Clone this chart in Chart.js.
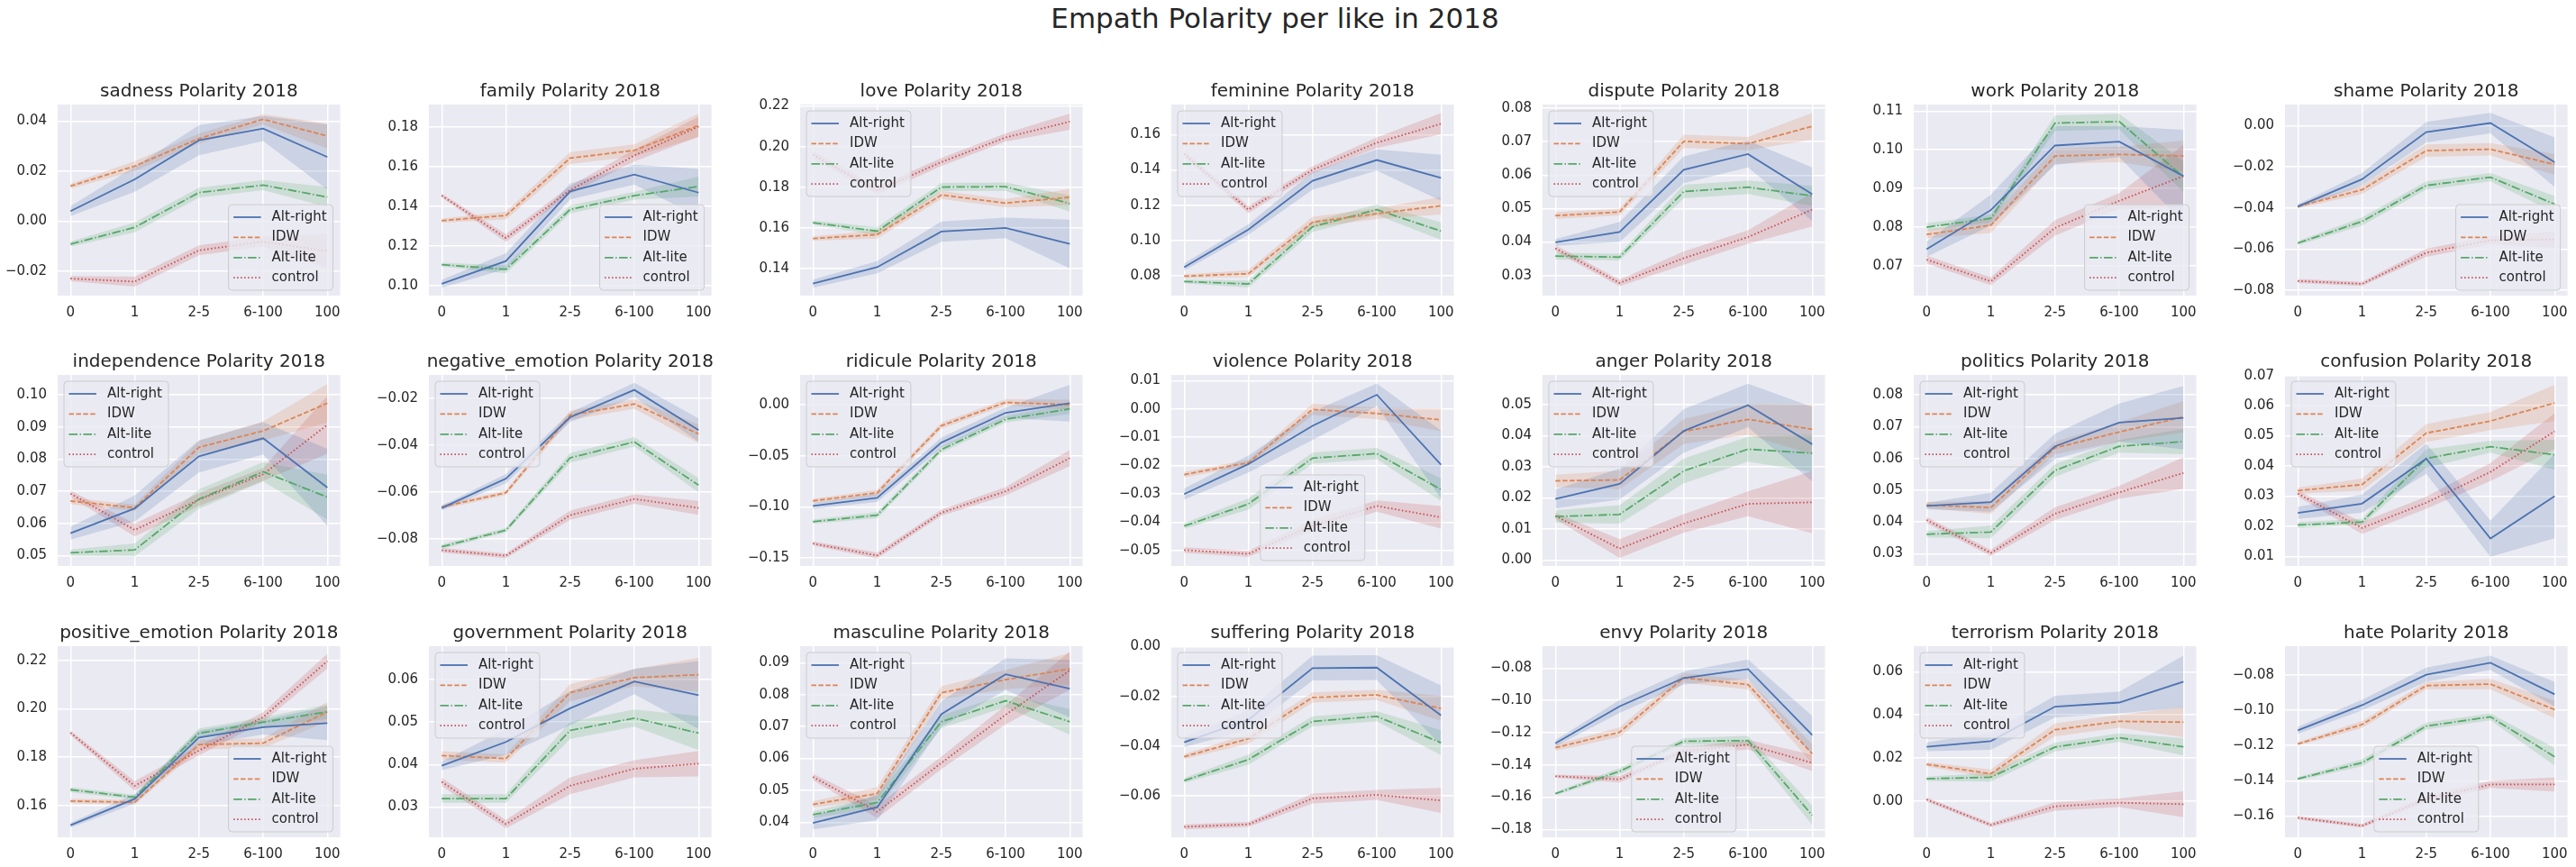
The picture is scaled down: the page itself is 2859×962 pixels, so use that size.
<!DOCTYPE html>
<html>
<head>
<meta charset="utf-8">
<script src="https://cdn.jsdelivr.net/npm/chart.js@4.4.1/dist/chart.umd.min.js"></script>
<style>
  html, body { margin: 0; padding: 0; background: #ffffff; }
  body { width: 2859px; height: 962px; position: relative; overflow: hidden; font-family: "DejaVu Sans", sans-serif; }
  #suptitle { position: absolute; left: 0; width: 2830px; top: 5px; text-align: center; font-size: 31px; line-height: 31px; color: #262626; white-space: nowrap; }
  .cv { position: absolute; }
</style>
</head>
<body>
<div id="suptitle">Empath Polarity per like in 2018</div>
<script>
// ---------------- DATA ----------------
const categories = ['0', '1', '2-5', '6-100', '100'];
const seriesNames = ['Alt-right', 'IDW', 'Alt-lite', 'control'];
const titles = [
  'sadness Polarity 2018', 'family Polarity 2018', 'love Polarity 2018', 'feminine Polarity 2018',
  'dispute Polarity 2018', 'work Polarity 2018', 'shame Polarity 2018',
  'independence Polarity 2018', 'negative_emotion Polarity 2018', 'ridicule Polarity 2018', 'violence Polarity 2018',
  'anger Polarity 2018', 'politics Polarity 2018', 'confusion Polarity 2018',
  'positive_emotion Polarity 2018', 'government Polarity 2018', 'masculine Polarity 2018', 'suffering Polarity 2018',
  'envy Polarity 2018', 'terrorism Polarity 2018', 'hate Polarity 2018'
];

const altRight = [
  [0.0040, 0.0167, 0.0323, 0.0370, 0.0256],
  [0.101, 0.1124, 0.1475, 0.156, 0.1469],
  [0.1326, 0.1407, 0.1582, 0.160, 0.1521],
  [0.0849, 0.1062, 0.1338, 0.1456, 0.1355],
  [0.0399, 0.043, 0.0616, 0.0663, 0.0543],
  [0.0743, 0.0844, 0.1011, 0.1021, 0.0932],
  [-0.0393, -0.0261, -0.0032, 0.0012, -0.0178],
  [0.057, 0.0647, 0.0809, 0.0865, 0.0712],
  [-0.0667, -0.0542, -0.028, -0.0163, -0.0335],
  [-0.0991, -0.0912, -0.0371, -0.0079, 0.0015],
  [-0.0301, -0.0195, -0.006, 0.005, -0.0197],
  [0.0197, 0.0245, 0.0416, 0.0498, 0.0373],
  [0.045, 0.0462, 0.0638, 0.0713, 0.0728],
  [0.0244, 0.0275, 0.0424, 0.0159, 0.030],
  [0.1518, 0.1627, 0.1881, 0.1924, 0.1941],
  [0.0397, 0.0453, 0.0532, 0.0595, 0.0563],
  [0.0398, 0.0447, 0.0739, 0.0864, 0.0819],
  [-0.0384, -0.0294, -0.0086, -0.0084, -0.0276],
  [-0.1266, -0.1037, -0.0861, -0.0806, -0.1215],
  [0.0252, 0.0278, 0.0438, 0.0457, 0.0554],
  [-0.1114, -0.0971, -0.0798, -0.073, -0.0909]
];
const altRightCI = [
  [0.002, 0.005, 0.006, 0.005, 0.013],
  [0.002, 0.004, 0.004, 0.005, 0.012],
  [0.002, 0.003, 0.005, 0.005, 0.012],
  [0.002, 0.003, 0.005, 0.006, 0.013],
  [0.001, 0.003, 0.004, 0.004, 0.008],
  [0.002, 0.004, 0.005, 0.004, 0.012],
  [0.001, 0.003, 0.005, 0.005, 0.012],
  [0.002, 0.004, 0.005, 0.005, 0.012],
  [0.001, 0.002, 0.002, 0.003, 0.005],
  [0.003, 0.004, 0.005, 0.005, 0.018],
  [0.002, 0.003, 0.005, 0.004, 0.012],
  [0.003, 0.005, 0.007, 0.007, 0.012],
  [0.001, 0.003, 0.004, 0.006, 0.010],
  [0.002, 0.003, 0.005, 0.006, 0.014],
  [0.001, 0.002, 0.003, 0.003, 0.007],
  [0.001, 0.003, 0.004, 0.003, 0.008],
  [0.002, 0.004, 0.004, 0.005, 0.009],
  [0.002, 0.004, 0.005, 0.005, 0.012],
  [0.002, 0.004, 0.004, 0.006, 0.012],
  [0.002, 0.004, 0.005, 0.005, 0.012],
  [0.002, 0.003, 0.004, 0.004, 0.007]
];

const idw = [
  [0.014, 0.022, 0.033, 0.0407, 0.034],
  [0.1328, 0.1354, 0.1643, 0.1682, 0.1808],
  [0.1548, 0.1567, 0.1762, 0.1722, 0.1751],
  [0.0798, 0.0812, 0.1104, 0.1152, 0.1197],
  [0.0479, 0.049, 0.0701, 0.0694, 0.0746],
  [0.0781, 0.0805, 0.0984, 0.0988, 0.0984],
  [-0.0393, -0.0312, -0.0122, -0.0115, -0.0189],
  [0.067, 0.0649, 0.0837, 0.0888, 0.0974],
  [-0.0663, -0.0602, -0.0271, -0.0223, -0.0351],
  [-0.0942, -0.0863, -0.0205, 0.0023, 0.0],
  [-0.0232, -0.019, -0.0002, -0.0016, -0.0039],
  [0.0255, 0.0258, 0.0414, 0.0453, 0.0421],
  [0.0453, 0.0445, 0.0633, 0.0683, 0.0731],
  [0.0318, 0.0338, 0.0509, 0.0549, 0.0609],
  [0.1618, 0.1613, 0.1852, 0.1858, 0.1988],
  [0.0421, 0.0414, 0.0569, 0.0604, 0.0611],
  [0.0456, 0.049, 0.0806, 0.0847, 0.0881],
  [-0.0442, -0.037, -0.0204, -0.0194, -0.0248],
  [-0.1293, -0.1197, -0.086, -0.0902, -0.1331],
  [0.0171, 0.0127, 0.0331, 0.037, 0.0366],
  [-0.1191, -0.1081, -0.086, -0.0851, -0.0996]
];
const idwCI = [
  [0.001, 0.002, 0.002, 0.002, 0.005],
  [0.001, 0.002, 0.003, 0.003, 0.006],
  [0.001, 0.002, 0.002, 0.002, 0.004],
  [0.001, 0.002, 0.003, 0.003, 0.005],
  [0.001, 0.001, 0.002, 0.002, 0.004],
  [0.001, 0.002, 0.002, 0.002, 0.004],
  [0.001, 0.002, 0.003, 0.003, 0.005],
  [0.001, 0.001, 0.002, 0.003, 0.006],
  [0.001, 0.001, 0.002, 0.002, 0.004],
  [0.002, 0.003, 0.003, 0.003, 0.005],
  [0.001, 0.001, 0.002, 0.002, 0.004],
  [0.002, 0.003, 0.004, 0.005, 0.008],
  [0.001, 0.002, 0.002, 0.003, 0.005],
  [0.001, 0.002, 0.003, 0.003, 0.006],
  [0.001, 0.001, 0.002, 0.002, 0.004],
  [0.001, 0.001, 0.002, 0.002, 0.004],
  [0.001, 0.002, 0.002, 0.003, 0.005],
  [0.001, 0.002, 0.002, 0.002, 0.005],
  [0.002, 0.003, 0.003, 0.003, 0.006],
  [0.001, 0.002, 0.003, 0.003, 0.007],
  [0.001, 0.002, 0.002, 0.003, 0.005]
];

const altLite = [
  [-0.0092, -0.0025, 0.0114, 0.0144, 0.0096],
  [0.1106, 0.1082, 0.1384, 0.1454, 0.150],
  [0.1626, 0.1584, 0.1801, 0.1803, 0.172],
  [0.0768, 0.0754, 0.1078, 0.1175, 0.1053],
  [0.0358, 0.0355, 0.0551, 0.0564, 0.0538],
  [0.080, 0.0823, 0.1069, 0.1073, 0.093],
  [-0.0571, -0.0466, -0.0291, -0.0251, -0.0382],
  [0.0509, 0.0518, 0.0676, 0.0761, 0.0682],
  [-0.0833, -0.0762, -0.0453, -0.0385, -0.057],
  [-0.1146, -0.1082, -0.0439, -0.0143, -0.0041],
  [-0.0414, -0.0336, -0.0174, -0.0158, -0.0285],
  [0.014, 0.0147, 0.0287, 0.0357, 0.0344],
  [0.0361, 0.0368, 0.0562, 0.0638, 0.0653],
  [0.0204, 0.0214, 0.0425, 0.0464, 0.0437],
  [0.1665, 0.1634, 0.1899, 0.1945, 0.1988],
  [0.032, 0.032, 0.048, 0.0509, 0.0474],
  [0.0424, 0.0462, 0.0715, 0.0781, 0.0715],
  [-0.0538, -0.0454, -0.030, -0.028, -0.0386],
  [-0.1578, -0.1439, -0.1253, -0.1249, -0.1712],
  [0.0104, 0.0111, 0.0251, 0.0294, 0.0252],
  [-0.1389, -0.1298, -0.109, -0.1037, -0.1264]
];
const altLiteCI = [
  [0.001, 0.002, 0.002, 0.002, 0.004],
  [0.001, 0.002, 0.002, 0.002, 0.005],
  [0.001, 0.002, 0.002, 0.002, 0.004],
  [0.001, 0.002, 0.003, 0.003, 0.005],
  [0.001, 0.001, 0.002, 0.002, 0.003],
  [0.001, 0.001, 0.002, 0.002, 0.004],
  [0.001, 0.002, 0.002, 0.002, 0.004],
  [0.001, 0.002, 0.003, 0.003, 0.007],
  [0.001, 0.001, 0.002, 0.002, 0.003],
  [0.002, 0.003, 0.003, 0.003, 0.005],
  [0.001, 0.002, 0.002, 0.002, 0.004],
  [0.002, 0.003, 0.004, 0.004, 0.006],
  [0.001, 0.002, 0.002, 0.002, 0.004],
  [0.001, 0.001, 0.003, 0.002, 0.005],
  [0.001, 0.001, 0.002, 0.002, 0.003],
  [0.001, 0.001, 0.002, 0.002, 0.004],
  [0.001, 0.002, 0.002, 0.002, 0.004],
  [0.001, 0.002, 0.002, 0.002, 0.005],
  [0.001, 0.002, 0.002, 0.003, 0.006],
  [0.001, 0.002, 0.002, 0.002, 0.004],
  [0.001, 0.002, 0.002, 0.002, 0.005]
];

const control = [
  [-0.023, -0.0242, -0.0117, -0.0082, -0.0121],
  [0.1454, 0.124, 0.1482, 0.1656, 0.1802],
  [0.196, 0.1784, 0.1924, 0.2045, 0.2123],
  [0.149, 0.1175, 0.140, 0.1554, 0.1661],
  [0.0381, 0.0278, 0.0352, 0.0415, 0.0497],
  [0.0716, 0.066, 0.0798, 0.0868, 0.0932],
  [-0.0755, -0.0769, -0.0618, -0.0557, -0.0554],
  [0.0693, 0.058, 0.0674, 0.0753, 0.0907],
  [-0.0848, -0.0871, -0.0698, -0.0629, -0.0667],
  [-0.136, -0.1477, -0.1058, -0.0848, -0.0523],
  [-0.0499, -0.0512, -0.0412, -0.0343, -0.0383],
  [0.0142, 0.0037, 0.0118, 0.0181, 0.0186],
  [0.0406, 0.0302, 0.0426, 0.0493, 0.0554],
  [0.0308, 0.0194, 0.0278, 0.038, 0.0515],
  [0.1901, 0.1681, 0.1827, 0.1966, 0.2198],
  [0.0359, 0.026, 0.035, 0.039, 0.0402],
  [0.0542, 0.0433, 0.0586, 0.0737, 0.0876],
  [-0.0724, -0.0714, -0.061, -0.0596, -0.0618],
  [-0.147, -0.1489, -0.1312, -0.1275, -0.1387],
  [0.0008, -0.011, -0.0024, -0.0007, -0.0014],
  [-0.161, -0.1656, -0.1503, -0.1421, -0.1421]
];
const controlCI = [
  [0.001, 0.002, 0.002, 0.002, 0.007],
  [0.001, 0.002, 0.002, 0.003, 0.005],
  [0.002, 0.002, 0.002, 0.002, 0.004],
  [0.002, 0.002, 0.002, 0.003, 0.006],
  [0.001, 0.001, 0.002, 0.002, 0.005],
  [0.001, 0.001, 0.002, 0.002, 0.008],
  [0.001, 0.001, 0.002, 0.002, 0.004],
  [0.001, 0.002, 0.002, 0.002, 0.009],
  [0.001, 0.001, 0.002, 0.002, 0.003],
  [0.002, 0.003, 0.003, 0.004, 0.008],
  [0.001, 0.001, 0.002, 0.002, 0.004],
  [0.001, 0.003, 0.003, 0.004, 0.010],
  [0.001, 0.001, 0.002, 0.002, 0.005],
  [0.001, 0.002, 0.002, 0.003, 0.006],
  [0.001, 0.002, 0.002, 0.002, 0.003],
  [0.001, 0.001, 0.002, 0.002, 0.003],
  [0.001, 0.002, 0.002, 0.003, 0.006],
  [0.001, 0.001, 0.002, 0.002, 0.005],
  [0.001, 0.002, 0.002, 0.003, 0.005],
  [0.001, 0.001, 0.002, 0.002, 0.006],
  [0.001, 0.001, 0.002, 0.002, 0.004]
];

// axis ranges and tick labels
const yMin = [-0.0298, 0.095, 0.1267, 0.0688, 0.024, 0.0623, -0.0826,
              0.0468, -0.0915, -0.158, -0.0555, -0.0019, 0.0261, 0.0068,
              0.1468, 0.0229, 0.0353, -0.0766, -0.1848, -0.0167, -0.1721];
const yMax = [0.0466, 0.1913, 0.2207, 0.177, 0.0811, 0.1117, 0.0102,
              0.1062, -0.0099, 0.0292, 0.012, 0.0596, 0.0863, 0.0702,
              0.226, 0.0678, 0.0952, 0.0002, -0.0664, 0.0718, -0.0636];
const tickFirst = [-0.02, 0.10, 0.14, 0.08, 0.03, 0.07, -0.08,
                   0.05, -0.08, -0.15, -0.05, 0.00, 0.03, 0.01,
                   0.16, 0.03, 0.04, -0.06, -0.18, 0.00, -0.16];
const tickLast = [0.04, 0.18, 0.22, 0.16, 0.08, 0.11, 0.00,
                  0.10, -0.02, 0.00, 0.01, 0.05, 0.08, 0.07,
                  0.22, 0.06, 0.09, 0.00, -0.08, 0.06, -0.08];
const tickStep = [0.02, 0.02, 0.02, 0.02, 0.01, 0.01, 0.02,
                  0.01, 0.02, 0.05, 0.01, 0.01, 0.01, 0.01,
                  0.02, 0.01, 0.01, 0.02, 0.02, 0.02, 0.02];
const legendLoc = ['lr', 'lr', 'ul', 'ul', 'ul', 'lr', 'lr',
                   'ul', 'ul', 'ul', 'lc', 'ul', 'ul', 'ul',
                   'lr', 'ul', 'ul', 'ul', 'lc', 'ul', 'lc'];

// ---------------- STYLE ----------------
const FONT = '"DejaVu Sans", sans-serif';
const TEXT = '#262626';
const palette = ['#4C72B0', '#DD8452', '#55A868', '#C44E52'];
const bandColors = ['rgba(76,114,176,0.2)', 'rgba(221,132,82,0.2)', 'rgba(85,168,104,0.2)', 'rgba(196,78,82,0.2)'];
const dashes = [[], [5.5, 2.4], [9.6, 2.4, 1.5, 2.4], [1.5, 2.5]];
const LW = 1.8;

const PLOT_W = 316, PLOT_H = 212;
const rowTops = [116, 416, 717];
const colLeft = c => 64 + 412 * c;
const AX_W = 64, TITLE_H = 48, XAX_H = 34, PAD_R = 8;

const bgPlugin = {
  id: 'plotBg',
  beforeDraw(chart) {
    const a = chart.chartArea, ctx = chart.ctx;
    ctx.save();
    ctx.fillStyle = '#EAEAF2';
    ctx.fillRect(a.left, a.top, a.right - a.left, a.bottom - a.top);
    ctx.restore();
  }
};

// axes title centred over the plot area (as matplotlib does)
const axTitlePlugin = {
  id: 'axTitle',
  afterDraw(chart, args, opts) {
    const a = chart.chartArea, ctx = chart.ctx;
    ctx.save();
    ctx.font = '20px ' + FONT;
    ctx.fillStyle = TEXT;
    ctx.textAlign = 'center';
    ctx.textBaseline = 'middle';
    ctx.fillText(opts.text, (a.left + a.right) / 2, a.top - 14);
    ctx.restore();
  }
};

const legendPlugin = {
  id: 'mplLegend',
  afterDraw(chart, args, opts) {
    const a = chart.chartArea, ctx = chart.ctx;
    ctx.save();
    ctx.font = '15px ' + FONT;
    const tw = Math.max(...seriesNames.map(n => ctx.measureText(n).width));
    const w = 48 + tw + 7, h = 95;
    let x, y;
    if (opts.loc === 'ul') { x = a.left + 7; y = a.top + 7; }
    else if (opts.loc === 'lr') { x = a.right - 8 - w; y = a.bottom - 6 - h; }
    else { x = (a.left + a.right) / 2 - w / 2; y = a.bottom - 6 - h; }
    const r = 4;
    ctx.beginPath();
    ctx.moveTo(x + r, y);
    ctx.lineTo(x + w - r, y); ctx.quadraticCurveTo(x + w, y, x + w, y + r);
    ctx.lineTo(x + w, y + h - r); ctx.quadraticCurveTo(x + w, y + h, x + w - r, y + h);
    ctx.lineTo(x + r, y + h); ctx.quadraticCurveTo(x, y + h, x, y + h - r);
    ctx.lineTo(x, y + r); ctx.quadraticCurveTo(x, y, x + r, y);
    ctx.closePath();
    ctx.fillStyle = 'rgba(234,234,242,0.8)';
    ctx.fill();
    ctx.lineWidth = 1;
    ctx.strokeStyle = '#CCCCCC';
    ctx.stroke();
    seriesNames.forEach((n, s) => {
      const cy = y + 14 + s * 22.4;
      ctx.beginPath();
      ctx.setLineDash(dashes[s]);
      ctx.strokeStyle = palette[s];
      ctx.lineWidth = LW;
      ctx.moveTo(x + 5.5, cy);
      ctx.lineTo(x + 36, cy);
      ctx.stroke();
      ctx.setLineDash([]);
      ctx.fillStyle = TEXT;
      ctx.textBaseline = 'middle';
      ctx.textAlign = 'left';
      ctx.fillText(n, x + 48, cy);
    });
    ctx.restore();
  }
};

function fmt(v) {
  if (Math.abs(v) < 1e-9) return '0.00';
  return (v < 0 ? '\u2212' : '') + Math.abs(v).toFixed(2);
}

for (let i = 0; i < titles.length; i++) {
  const col = i % 7, row = Math.floor(i / 7);
  const cv = document.createElement('canvas');
  const W = AX_W + PLOT_W + PAD_R, H = TITLE_H + PLOT_H + XAX_H;
  cv.className = 'cv';
  cv.style.left = (colLeft(col) - AX_W) + 'px';
  cv.style.top = (rowTops[row] - TITLE_H) + 'px';
  cv.style.width = W + 'px';
  cv.style.height = H + 'px';
  cv.width = W; cv.height = H;
  document.body.appendChild(cv);

  const means = [altRight[i], idw[i], altLite[i], control[i]];
  const cis = [altRightCI[i], idwCI[i], altLiteCI[i], controlCI[i]];
  const datasets = [];
  means.forEach((m, s) => {
    datasets.push({
      label: seriesNames[s],
      data: m.map((v, k) => ({ x: k, y: v })),
      borderColor: palette[s], borderWidth: LW, borderDash: dashes[s],
      pointRadius: 0, fill: false, tension: 0, order: 0
    });
  });
  means.forEach((m, s) => {
    datasets.push({
      label: seriesNames[s] + ' low',
      data: m.map((v, k) => ({ x: k, y: v - cis[s][k] })),
      borderColor: 'rgba(0,0,0,0)', borderWidth: 0, pointRadius: 0, fill: false, tension: 0, order: 1
    });
    datasets.push({
      label: seriesNames[s] + ' high',
      data: m.map((v, k) => ({ x: k, y: v + cis[s][k] })),
      borderColor: 'rgba(0,0,0,0)', borderWidth: 0, pointRadius: 0, fill: '-1',
      backgroundColor: bandColors[s], tension: 0, order: 1
    });
  });

  const nT = Math.round((tickLast[i] - tickFirst[i]) / tickStep[i]);
  const yTicks = [];
  for (let k = 0; k <= nT; k++) yTicks.push(Math.round((tickFirst[i] + k * tickStep[i]) * 1e6) / 1e6);

  new Chart(cv, {
    type: 'line',
    data: { datasets },
    plugins: [bgPlugin, legendPlugin, axTitlePlugin],
    options: {
      responsive: false,
      animation: false,
      events: [],
      devicePixelRatio: 1,
      layout: { padding: { left: 0, right: PAD_R, top: TITLE_H, bottom: 0 } },
      plugins: {
        legend: { display: false },
        tooltip: { enabled: false },
        title: { display: false },
        axTitle: { text: titles[i] },
        mplLegend: { loc: legendLoc[i] }
      },
      scales: {
        x: {
          type: 'linear', min: -0.2, max: 4.2,
          afterBuildTicks: s => { s.ticks = categories.map((c, k) => ({ value: k })); },
          afterFit: s => { s.height = XAX_H; },
          ticks: {
            callback: v => categories[v], color: TEXT, padding: 10,
            font: { family: FONT, size: 15 }, maxRotation: 0, autoSkip: false
          },
          grid: { color: '#FFFFFF', lineWidth: 1.5, drawTicks: false },
          border: { display: false }
        },
        y: {
          type: 'linear', min: yMin[i], max: yMax[i],
          afterBuildTicks: s => { s.ticks = yTicks.map(v => ({ value: v })); },
          afterFit: s => { s.width = AX_W; },
          ticks: {
            callback: v => fmt(v), color: TEXT, padding: 12,
            font: { family: FONT, size: 15 }, autoSkip: false
          },
          grid: { color: '#FFFFFF', lineWidth: 1.5, drawTicks: false },
          border: { display: false }
        }
      }
    }
  });
}
</script>
</body>
</html>
